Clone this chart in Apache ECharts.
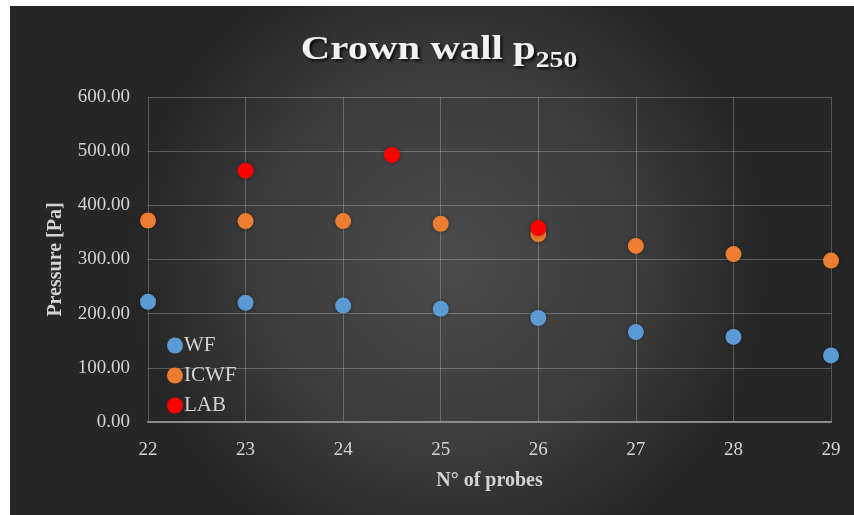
<!DOCTYPE html>
<html>
<head>
<meta charset="utf-8">
<script src="https://cdn.jsdelivr.net/npm/echarts@6/dist/echarts.min.js"></script>
<style>
  html, body { margin: 0; padding: 0; background: #ffffff; }
  #chart { width: 854px; height: 515px; }
</style>
</head>
<body>
<div id="chart"></div>
<script>
// Probe numbers on the x axis
const probes = [22, 23, 24, 25, 26, 27, 28, 29];
// Pressure p250 [Pa] per probe
const wfValues = [222, 220, 215, 209, 192, 166, 157, 123];
const icwfValues = [372, 371, 371, 366, 347, 325, 310, 298];
// Laboratory measurements (probe, pressure)
const labProbes = [23, 24.5, 26];
const labValues = [464, 493, 358];

const seriesNames = ['WF', 'ICWF', 'LAB'];
const seriesColors = ['#5B9BD5', '#ED7D31', '#FF0000'];

const pairs = (xs, ys) => xs.map((x, i) => [x, ys[i]]);

const serif = '"Liberation Serif", "DejaVu Serif", serif';
const textGrey = '#d4d4d4';

const chart = echarts.init(document.getElementById('chart'), null, { renderer: 'canvas' });

const markerStyle = (c) => ({
  color: c,
  opacity: 1,
  shadowColor: 'rgba(0,0,0,0.4)',
  shadowBlur: 4
});

chart.setOption({
  backgroundColor: '#ffffff',
  animation: false,
  graphic: [
    {
      type: 'rect',
      z: -10,
      silent: true,
      shape: { x: 10, y: 6, width: 844, height: 509 },
      style: {
        fill: new echarts.graphic.RadialGradient(0.52, 0.5, 0.62, [
          { offset: 0, color: '#4b4b4b' },
          { offset: 0.6, color: '#3c3c3c' },
          { offset: 1, color: '#262626' }
        ])
      }
    },
    {
      type: 'text',
      z: 10,
      x: 439,
      y: 47,
      scaleX: 1.2,
      style: {
        text: '{a|Crown wall p}{b|250}',
        align: 'center',
        verticalAlign: 'middle',
        rich: {
          a: {
            fontFamily: serif,
            fontWeight: 'bold',
            fontSize: 34,
            fill: '#f2f2f2',
            textShadowColor: 'rgba(0,0,0,0.85)',
            textShadowBlur: 3,
            textShadowOffsetX: 2,
            textShadowOffsetY: 2,
            verticalAlign: 'bottom',
            lineHeight: 40
          },
          b: {
            fontFamily: serif,
            fontWeight: 'bold',
            fontSize: 23,
            fill: '#f2f2f2',
            textShadowColor: 'rgba(0,0,0,0.85)',
            textShadowBlur: 3,
            textShadowOffsetX: 2,
            textShadowOffsetY: 2,
            verticalAlign: 'bottom',
            lineHeight: 34,
            padding: [0, 0, -6, 0]
          }
        }
      }
    }
  ],
  grid: { left: 148, right: 23, top: 97, bottom: 93 },
  legend: {
    orient: 'vertical',
    left: 162,
    top: 330,
    itemWidth: 16,
    itemHeight: 16,
    itemGap: 9,
    icon: 'circle',
    data: seriesNames,
    textStyle: { fontFamily: serif, fontSize: 21, color: textGrey, padding: [0, 0, 0, -4] }
  },
  xAxis: {
    type: 'value',
    min: 22,
    max: 29,
    interval: 1,
    name: 'N° of probes',
    nameLocation: 'middle',
    nameGap: 49,
    nameTextStyle: { fontFamily: serif, fontWeight: 'bold', fontSize: 20, color: textGrey },
    axisLine: { show: true, lineStyle: { color: '#8c8c8c', width: 2 } },
    axisTick: { show: false },
    axisLabel: { fontFamily: serif, fontSize: 19, color: textGrey, margin: 19 },
    splitLine: { show: true, lineStyle: { color: 'rgba(255,255,255,0.24)', width: 1 } }
  },
  yAxis: {
    type: 'value',
    min: 0,
    max: 600,
    interval: 100,
    name: 'Pressure [Pa]',
    nameLocation: 'middle',
    nameGap: 82,
    nameTextStyle: { fontFamily: serif, fontWeight: 'bold', fontSize: 20, color: textGrey },
    axisLine: { show: false },
    axisTick: { show: false },
    axisLabel: {
      fontFamily: serif, fontSize: 19, color: textGrey, margin: 18,
      formatter: (v) => v.toFixed(2)
    },
    splitLine: { show: true, lineStyle: { color: 'rgba(255,255,255,0.24)', width: 1 } }
  },
  series: [
    {
      name: seriesNames[0], type: 'scatter', symbolSize: 16,
      itemStyle: markerStyle(seriesColors[0]),
      data: pairs(probes, wfValues)
    },
    {
      name: seriesNames[1], type: 'scatter', symbolSize: 16,
      itemStyle: markerStyle(seriesColors[1]),
      data: pairs(probes, icwfValues)
    },
    {
      name: seriesNames[2], type: 'scatter', symbolSize: 16,
      itemStyle: markerStyle(seriesColors[2]),
      data: pairs(labProbes, labValues)
    }
  ]
});
</script>
</body>
</html>
